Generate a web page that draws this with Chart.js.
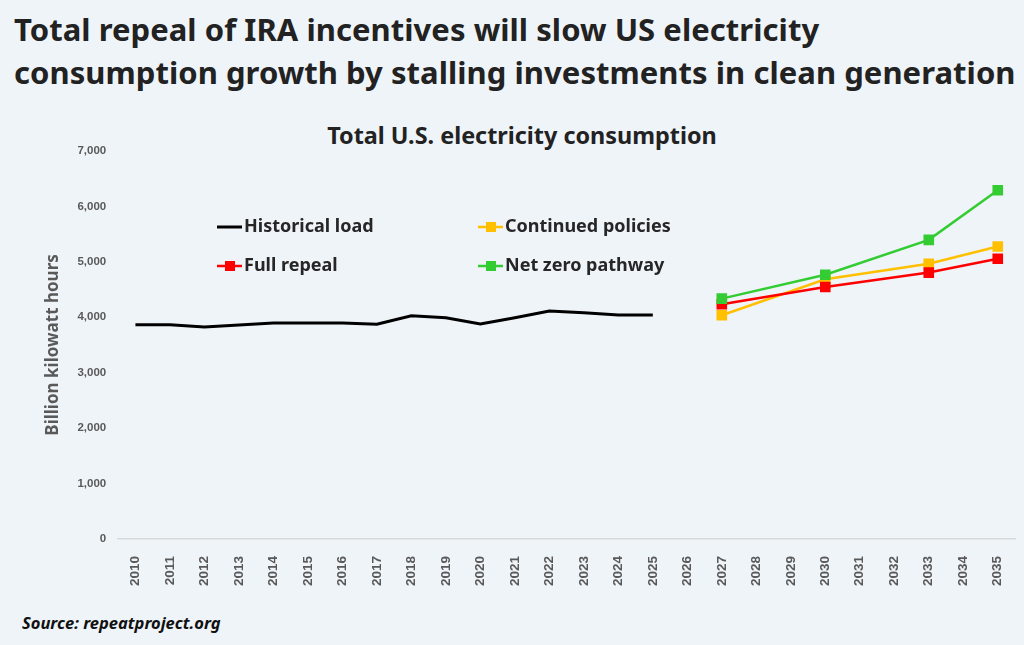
<!DOCTYPE html>
<html>
<head>
<meta charset="utf-8">
<script src="https://cdn.jsdelivr.net/npm/chart.js@4.4.1/dist/chart.umd.min.js"></script>
<style>
  html, body { margin: 0; padding: 0; }
  body { width: 1024px; height: 645px; background: #eff4f9; position: relative; overflow: hidden; font-family: "Noto Sans", sans-serif; }
  #title { position: absolute; left: 14px; top: 8px; font-size: 31px; font-weight: 700; line-height: 43px; color: #222; white-space: nowrap; letter-spacing: 0.05px; }
  #subtitle { position: absolute; left: 0; width: 1044px; top: 119px; text-align: center; font-size: 23.4px; font-weight: 700; color: #222; }
  #source { position: absolute; left: 22px; top: 611px; font-size: 16.5px; font-weight: 700; font-style: italic; color: #111; }
  #wrap { position: absolute; left: 0; top: 140px; width: 1024px; height: 470px; }
</style>
</head>
<body>
<div id="title">Total repeal of IRA incentives will slow US electricity<br>consumption growth by stalling investments in clean generation</div>
<div id="subtitle">Total U.S. electricity consumption</div>
<div id="wrap"><canvas id="chart"></canvas></div>
<div id="source">Source: repeatproject.org</div>
<script>
const years = ['2010','2011','2012','2013','2014','2015','2016','2017','2018','2019','2020','2021','2022',
  '2023','2024','2025','2026','2027','2028','2029','2030','2031','2032','2033','2034','2035'];

// billion kWh, 2010-2025
const historical = [3865, 3865, 3825, 3860, 3895, 3895, 3895, 3875, 4025, 3990, 3880, 3990, 4110, 4080, 4040, 4040];

// projections at 2027, 2030, 2033, 2035
const projYears = ['2027', '2030', '2033', '2035'];
const continuedPolicies = [4035, 4685, 4965, 5275];
const fullRepeal = [4235, 4545, 4805, 5055];
const netZero = [4335, 4765, 5395, 6290];

const yTicks = [0, 1000, 2000, 3000, 4000, 5000, 6000, 7000];

function spread(values) {
  return years.map(y => {
    const i = projYears.indexOf(y);
    return i >= 0 ? values[i] : null;
  });
}
const histData = years.map((y, i) => i < historical.length ? historical[i] : null);

// legend drawn inside the plot, Excel style
const insideLegend = {
  id: 'insideLegend',
  afterDraw(chart) {
    const ctx = chart.ctx;
    const items = [
      { ds: 0, x: 217, y: 87 },
      { ds: 1, x: 478, y: 87 },
      { ds: 2, x: 217, y: 126 },
      { ds: 3, x: 478, y: 126 }
    ];
    ctx.save();
    ctx.font = 'bold 18px "Noto Sans", sans-serif';
    ctx.textBaseline = 'middle';
    items.forEach(it => {
      const d = chart.data.datasets[it.ds];
      ctx.strokeStyle = d.borderColor;
      ctx.lineWidth = d.borderWidth;
      ctx.beginPath();
      ctx.moveTo(it.x, it.y);
      ctx.lineTo(it.x + 25, it.y);
      ctx.stroke();
      if (d.pointRadius > 0) {
        ctx.fillStyle = d.pointBackgroundColor;
        ctx.fillRect(it.x + 8, it.y - 5, 10, 10);
      }
      ctx.fillStyle = '#262626';
      ctx.fillText(d.label, it.x + 27, it.y);
    });
    ctx.restore();
  }
};

new Chart(document.getElementById('chart'), {
  type: 'line',
  data: {
    labels: years,
    datasets: [
      { label: 'Historical load', data: histData, borderColor: '#000000', borderWidth: 3, pointRadius: 0, order: 3 },
      { label: 'Continued policies', data: spread(continuedPolicies), borderColor: '#ffc000', pointBackgroundColor: '#ffc000',
        borderWidth: 2.5, pointStyle: 'rect', pointRadius: 7.5, pointBorderWidth: 0, spanGaps: true, order: 2 },
      { label: 'Full repeal', data: spread(fullRepeal), borderColor: '#ff0000', pointBackgroundColor: '#ff0000',
        borderWidth: 2.5, pointStyle: 'rect', pointRadius: 7.5, pointBorderWidth: 0, spanGaps: true, order: 1 },
      { label: 'Net zero pathway', data: spread(netZero), borderColor: '#33cc33', pointBackgroundColor: '#33cc33',
        borderWidth: 2.5, pointStyle: 'rect', pointRadius: 7.5, pointBorderWidth: 0, spanGaps: true, order: 0 }
    ]
  },
  options: {
    responsive: true,
    maintainAspectRatio: false,
    animation: false,
    layout: { padding: { left: 43, right: 9, top: 4, bottom: 15 } },
    plugins: {
      legend: { display: false },
      tooltip: { enabled: false }
    },
    scales: {
      x: {
        offset: true,
        grid: { display: false },
        border: { color: '#d9d9d9', width: 1.5 },
        ticks: {
          autoSkip: false, minRotation: 90, maxRotation: 90, padding: 9,
          color: '#595959', font: { family: '"Liberation Sans", Arial, sans-serif', size: 13.5, weight: 'bold' }
        }
      },
      y: {
        min: 0, max: 7000,
        grid: { display: false },
        border: { display: false },
        afterBuildTicks: axis => { axis.ticks = yTicks.map(v => ({ value: v })); },
        ticks: {
          padding: 4,
          color: '#595959', font: { family: '"Liberation Sans", Arial, sans-serif', size: 11.5, weight: 'bold' },
          callback: v => v.toLocaleString('en-US')
        },
        title: {
          display: true, text: 'Billion kilowatt hours', color: '#595959',
          font: { family: '"Noto Sans", sans-serif', size: 17, weight: 'bold' },
          padding: { top: 0, bottom: 10 }
        }
      }
    }
  },
  plugins: [insideLegend]
});
</script>
</body>
</html>
